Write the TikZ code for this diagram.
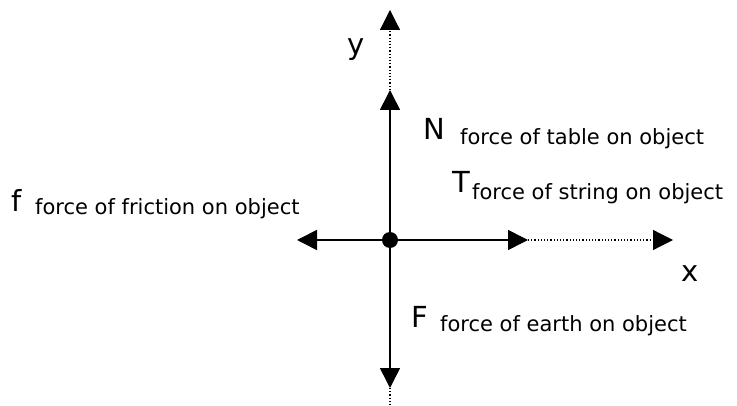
\documentclass[tikz,border=0pt]{standalone}
\usepackage{fontspec}
\setmainfont{DejaVu Sans}
\usetikzlibrary{arrows.meta}
\begin{document}
\begin{tikzpicture}[x=1pt,y=-1pt,
  force/.style={line width=1.6pt,-{Triangle[length=20pt,width=20pt]}},
  axis/.style={line width=1.2pt,dotted,-{Triangle[length=20pt,width=20pt]}},
  axisend/.style={line width=1.2pt,dotted},
  big/.style={inner sep=0pt,anchor=base west,font=\fontsize{29}{31}\selectfont},
  small/.style={inner sep=0pt,anchor=base west,font=\fontsize{21}{23}\selectfont},
  axlabel/.style={inner sep=0pt,font=\fontsize{29}{31}\selectfont}]
\useasboundingbox (0,0) rectangle (737,406);
% points
\node[circle,fill=black,inner sep=0pt,minimum size=16pt] (o) at (390,240) {};
\coordinate (ntip) at (390,90);
\coordinate (ytip) at (390,10);
\coordinate (ftip) at (390,388);
\coordinate (fend) at (390,406);
\coordinate (frtip) at (297,240);
\coordinate (ttip) at (528,240);
\coordinate (xtip) at (673,240);
% connectors
\draw[axis] (ntip) -- (ytip);
\draw[axis] (ttip) -- (xtip);
\draw[axisend] (ftip) -- (fend);
\draw[force] (o) -- (ntip);
\draw[force] (o) -- (ftip);
\draw[force] (o) -- (frtip);
\draw[force] (o) -- (ttip);
% labels
\node[axlabel] (ylab) at (356,50) {y};
\node[axlabel] (xlab) at (690,274) {x};
\node[big] (N) at (423,140) {N};
\node[small] (Ns) at (460,145) {force of table on object};
\node[big] (T) at (452,193) {T};
\node[small] (Ts) at (472,200) {force of string on object};
\node[big] (f) at (11,212) {f};
\node[small] (fs) at (35,215) {force of friction on object};
\node[big] (F) at (411,328) {F};
\node[small] (Fs) at (440,332) {force of earth on object};
\end{tikzpicture}
\end{document}
